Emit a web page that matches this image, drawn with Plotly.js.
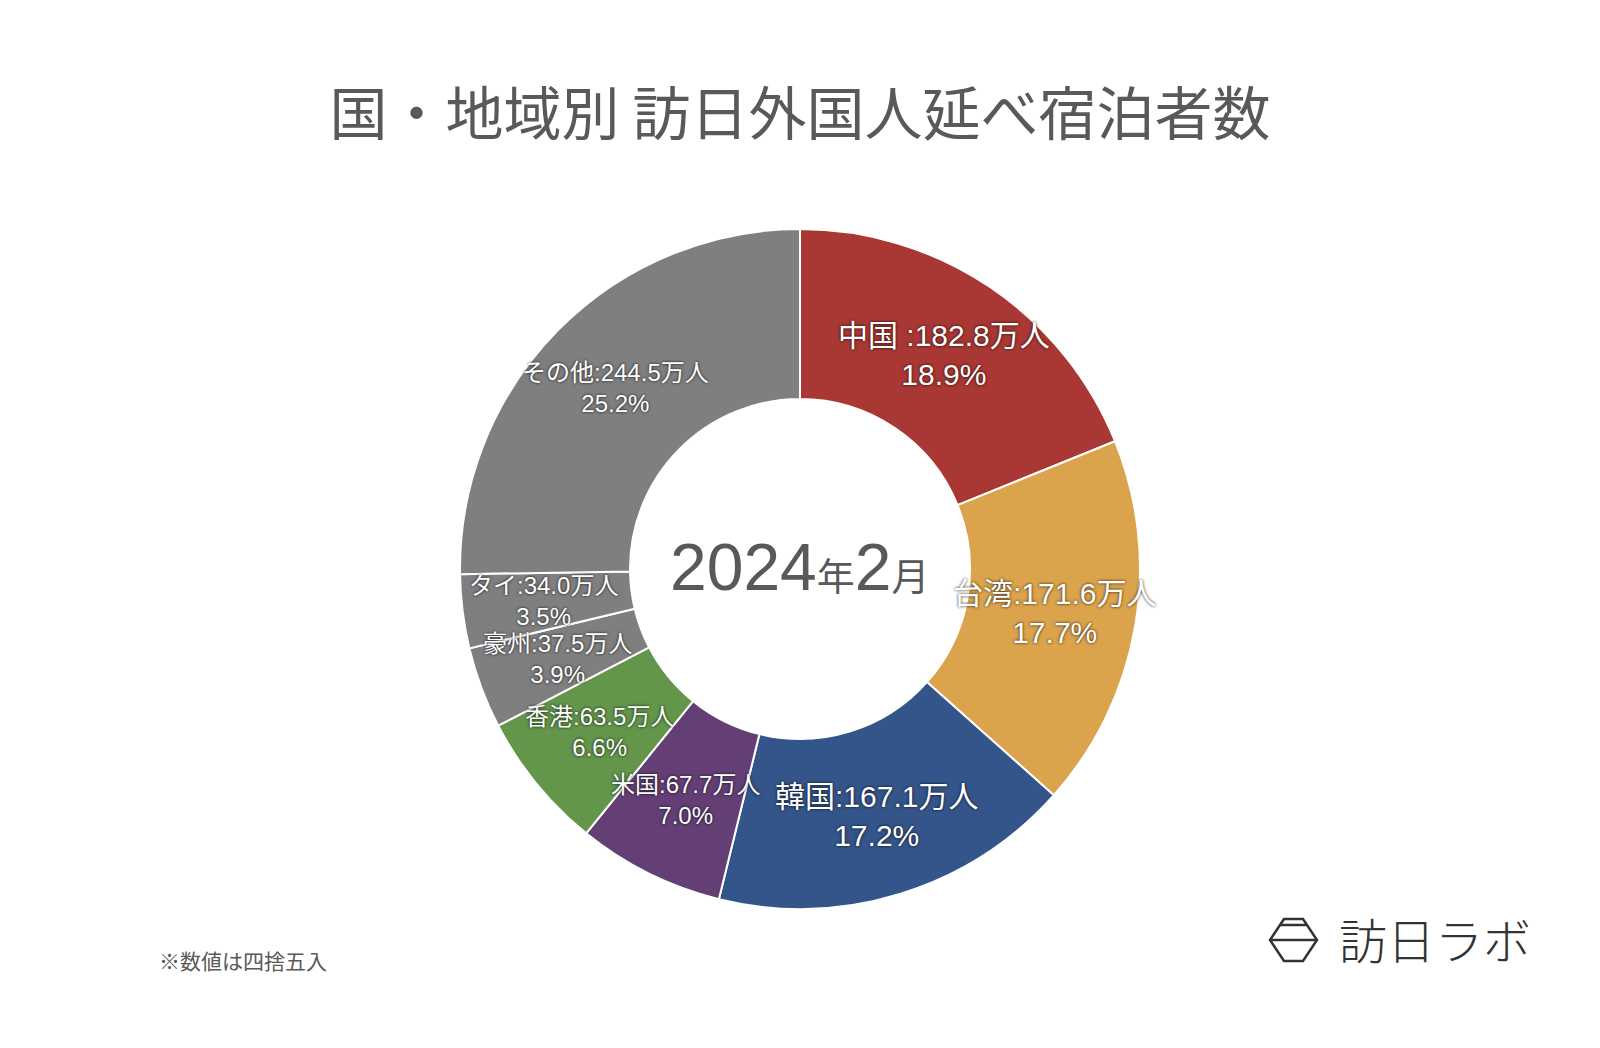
<!DOCTYPE html>
<html>
<head>
<meta charset="utf-8">
<script src="https://cdn.plot.ly/plotly-3.0.1.min.js"></script>
<style>html,body{margin:0;padding:0;background:#fff;}#chart{width:1600px;height:1048px;}</style>
</head>
<body>
<div id="chart"></div>
<script>
// ---- data ----
const categories = ["中国 ", "台湾", "韓国", "米国", "香港", "豪州", "タイ", "その他"];
const values = [182.8, 171.6, 167.1, 67.7, 63.5, 37.5, 34.0, 244.5]; // 万人
const shares = ["18.9%", "17.7%", "17.2%", "7.0%", "6.6%", "3.9%", "3.5%", "25.2%"];
const centerYear = "2024";
const centerMonth = "2";

// ---- styles ----
const sliceColors = ["#A93733", "#DBA34B", "#34558A", "#633F75", "#63954B", "#7F7F7F", "#7F7F7F", "#7F7F7F"];
const labelFontSizes = [30, 30, 30, 24, 24, 24, 24, 24];
const W = 1600, H = 1048;
const cx = 800, cy = 569, R = 340;
const domX = [(cx - R) / W, (cx + R) / W];
const domY = [1 - (cy + R) / H, 1 - (cy - R) / H];
const labelRadius = 0.76 * R;
const font = "'Liberation Sans', 'Noto Sans CJK JP', sans-serif";
const cjkFont = "'Noto Sans CJK JP', 'Noto Sans', sans-serif";
const labelShadow = "0px 0px 3px rgba(0,0,0,0.9)";

const total = values.reduce((a, b) => a + b, 0);
let cum = 0;
const annotations = [];
values.forEach((v, i) => {
  const th = (cum + v / 2) / total * 2 * Math.PI;
  cum += v;
  const px = cx + labelRadius * Math.sin(th);
  const py = cy - labelRadius * Math.cos(th);
  annotations.push({
    xref: "paper", yref: "paper", x: px / W, y: 1 - py / H,
    xanchor: "center", yanchor: "middle", showarrow: false,
    text: categories[i] + ":" + values[i].toFixed(1) + "万人<br>" + shares[i],
    font: {family: font, size: labelFontSizes[i], color: "#ffffff", shadow: labelShadow}
  });
});

// center text
annotations.push({
  xref: "paper", yref: "paper", x: cx / W, y: 1 - (cy - 2) / H,
  xanchor: "center", yanchor: "middle", showarrow: false,
  text: centerYear + "<span style='font-size:38px'>年</span>" + centerMonth + "<span style='font-size:38px'>月</span>",
  font: {family: font, size: 66, color: "#595959"}
});
// note
annotations.push({
  xref: "paper", yref: "paper", x: 157 / W, y: 1 - 960 / H,
  xanchor: "left", yanchor: "middle", showarrow: false,
  text: "※数値は四捨五入",
  font: {family: cjkFont, size: 21, color: "#595959"}
});
// logo text
annotations.push({
  xref: "paper", yref: "paper", x: 1337 / W, y: 1 - 938 / H,
  xanchor: "left", yanchor: "middle", showarrow: false,
  text: "訪日ラボ",
  font: {family: cjkFont, size: 48, color: "#333333", weight: 200}
});

const shapes = [
  {type: "path", xref: "paper", yref: "paper",
   path: "M " + [[1270,940],[1284,919],[1303,919],[1317,940],[1303,961],[1284,961]].map(p => (p[0]/W) + "," + (1 - p[1]/H)).join(" L ") + " Z",
   line: {color: "#333333", width: 2.5}},
  {type: "line", xref: "paper", yref: "paper", x0: 1270/W, x1: 1317/W, y0: 1-940/H, y1: 1-940/H, line: {color: "#333333", width: 2.5}},
  {type: "line", xref: "paper", yref: "paper", x0: 1281/W, x1: 1306/W, y0: 1-925/H, y1: 1-925/H, line: {color: "#333333", width: 2.5}}
];

const trace = {
  type: "pie",
  labels: categories,
  values: values,
  hole: 0.5,
  sort: false,
  direction: "clockwise",
  rotation: 0,
  domain: {x: domX, y: domY},
  marker: {colors: sliceColors, line: {color: "#ffffff", width: 2}},
  textinfo: "none",
  hoverinfo: "label+value+percent",
  showlegend: false
};

const layout = {
  width: W, height: H,
  margin: {l: 0, r: 0, t: 0, b: 0},
  paper_bgcolor: "#ffffff",
  showlegend: false,
  title: {
    text: "国・地域別 訪日外国人延べ宿泊者数",
    x: 0.5, xanchor: "center", xref: "paper",
    y: 1 - 115 / H, yanchor: "middle", yref: "container",
    font: {family: cjkFont, size: 58, color: "#595959"}
  },
  annotations: annotations,
  shapes: shapes
};

Plotly.newPlot("chart", [trace], layout, {displayModeBar: false, staticPlot: true});
</script>
</body>
</html>
